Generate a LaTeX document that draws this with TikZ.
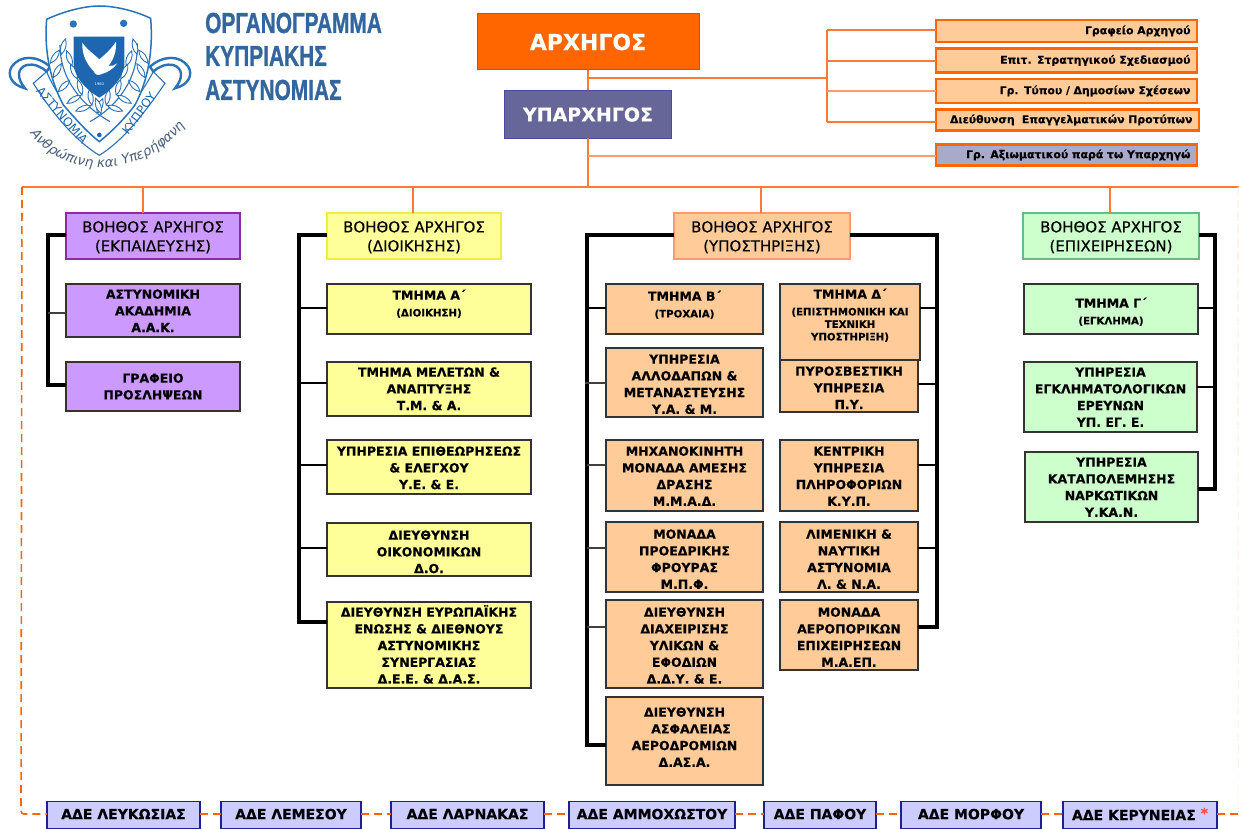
\documentclass[tikz,border=0pt]{standalone}
\usepackage{fontspec}
\setmainfont{DejaVu Sans}[BoldFeatures={FakeBold=0.25}]
\newfontfamily\hdrfont{DejaVu Sans}[FakeBold=0.35]
\newfontfamily\titlefont{Liberation Sans}[BoldFeatures={FakeBold=1.2}]
\usetikzlibrary{decorations.text}
\definecolor{org}{HTML}{FF6600}
\definecolor{orgline}{HTML}{FF7A33}
\definecolor{orgpale}{HTML}{FF9B70}
\definecolor{emb}{HTML}{2A73B8}
\definecolor{embdark}{HTML}{1F66B0}
\definecolor{ttl}{HTML}{33669F}
\definecolor{mot}{HTML}{4A5F7F}
\definecolor{purpfill}{HTML}{CC99FF}
\definecolor{yelfill}{HTML}{FFFF99}
\definecolor{peachfill}{HTML}{FFCC99}
\definecolor{grnfill}{HTML}{CCFFCC}
\definecolor{adefill}{HTML}{CCCCFF}
\definecolor{ademark}{HTML}{1F1F8F}
\definecolor{deputyfill}{HTML}{666699}
\definecolor{deputyedge}{HTML}{4A4AA5}
\definecolor{axfill}{HTML}{A9A9C9}
\definecolor{purpedge}{HTML}{8A2BA0}
\definecolor{yeledge}{HTML}{EEEE44}
\definecolor{peachedge}{HTML}{FF9A70}
\definecolor{grnedge}{HTML}{66BB88}
\newcommand\bx[8]{\node[boxbase,#6] (#1) at ({(#2+#4)/2},{(#3+#5)/2})
 {\parbox[c][\dimexpr#5pt-#3pt\relax][t]{\dimexpr#4pt-#2pt\relax}{\centering\vspace*{#7pt}\strut #8}};}
\newcommand\sml[1]{\\[3pt]{\fontsize{10.2}{12.5}\selectfont #1\par}}
\tikzset{
 boxbase/.style={inner sep=0pt,outer sep=0pt,align=center,font=\fontsize{12.5}{16.7}\selectfont\bfseries,text=black},
 hdr/.style={font=\fontsize{15}{19}\selectfont\hdrfont,text=black,line width=1.5pt},
 unitbox/.style={draw=black!80,line width=1.8pt},
 purp/.style={fill=purpfill},yel/.style={fill=yelfill},peach/.style={fill=peachfill},grn/.style={fill=grnfill},
 side/.style={draw=org,line width=2.2pt,fill=peachfill,font=\fontsize{10.9}{13}\selectfont\bfseries},
 ade/.style={draw=ademark,line width=1.6pt,fill=adefill,font=\fontsize{14}{15}\selectfont\bfseries},
 conn/.style={draw=orgline,line width=1.7pt},
 connpale/.style={draw=orgpale,line width=2pt},
 dashconn/.style={draw=org,line width=1.6pt,dash pattern=on 8pt off 5pt},
 trunk/.style={draw=black,line width=3.1pt},
 branch/.style={draw=black,line width=2.9pt},
 branchthin/.style={draw=black!75,line width=2pt},
 emline/.style={draw=emb,line width=1.1pt},
 leaf/.style={draw=emb,line width=.9pt,fill=white},
}
\begin{document}
\begin{tikzpicture}[x=1pt,y=-1pt]
\useasboundingbox (0,0) rectangle (1239,829);
\fill[white] (0,0) rectangle (1239,829);

%%% emblem (coordinates in 1/3 px)
\begin{scope}[x=.3333pt,y=-.3333pt]
 % ribbons
 \draw[emb,line width=2.4pt,fill=white] (150,200) .. controls (110,165) and (60,165) .. (35,200) .. controls (20,225) and (35,255) .. (75,265) .. controls (50,235) and (50,205) .. (80,195) .. controls (100,190) and (125,200) .. (140,215) -- cycle;
 \draw[emb,line width=2.4pt,fill=white] (450,200) .. controls (490,165) and (540,165) .. (565,200) .. controls (580,225) and (565,255) .. (525,265) .. controls (550,235) and (550,205) .. (520,195) .. controls (500,190) and (475,200) .. (460,215) -- cycle;
 % band
 \draw[emline,fill=white] (100,250) -- (140,215) .. controls (170,290) and (230,360) .. (298,405) .. controls (365,360) and (420,290) .. (460,215) -- (495,250) .. controls (430,345) and (365,425) .. (298,466) .. controls (230,425) and (160,345) .. (100,250) -- cycle;
 % shield
 \draw[emb,line width=1.5pt,fill=white] (140,58) .. controls (200,30) and (260,18) .. (298,18) .. controls (340,18) and (400,30) .. (452,55) .. controls (460,150) and (445,240) .. (405,315) .. controls (375,355) and (335,395) .. (298,425) .. controls (260,395) and (225,355) .. (190,315) .. controls (150,240) and (132,150) .. (140,58) -- cycle;
 \fill[emb] (220,72) circle (11) (371,70) circle (11);
 \fill[embdark] (298,405) circle (7);
 % laurel
 \draw[emb,line width=1.1pt] (330,365) .. controls (250,320) and (180,240) .. (180,135);
 \draw[emb,line width=1.1pt] (270,365) .. controls (350,320) and (415,240) .. (412,130);
 \foreach \lx/\ly/\la in {190/140/75,165/170/55,208/175/110,172/212/60,222/215/115,192/258/45,240/262/105,222/298/30,272/292/100,250/325/20,300/318/70}{
  \draw[leaf,shift={(\lx,\ly)},rotate=\la] (-24,0) .. controls (-8,-10) and (8,-10) .. (24,0) .. controls (8,10) and (-8,10) .. (-24,0) -- cycle;
  \draw[leaf,shift={(595-\lx,\ly)},rotate=-\la] (-24,0) .. controls (-8,-10) and (8,-10) .. (24,0) .. controls (8,10) and (-8,10) .. (-24,0) -- cycle;
 }
 % inner shield with dove
 \fill[embdark] (221,110) -- (373,110) -- (373,195) .. controls (370,235) and (335,270) .. (298,293) .. controls (260,270) and (225,235) .. (221,195) -- cycle;
 \fill[white] (247,128) .. controls (262,150) and (285,165) .. (298,178) .. controls (320,160) and (335,145) .. (348,125) .. controls (350,155) and (340,180) .. (325,198) .. controls (335,200) and (345,195) .. (352,190) .. controls (340,208) and (320,218) .. (305,222) .. controls (295,228) and (285,225) .. (280,212) .. controls (262,195) and (245,165) .. (247,128) -- cycle;
 \node[inner sep=0pt,text=white,font=\fontsize{3.6}{4}\selectfont] (emyear) at (298,252) {1960};
 % band lettering
 \node[inner sep=0pt,rotate=-49,text=embdark,font=\fontsize{12}{13}\selectfont] (emleft) at (187,346) {ΑΣΤΥΝΟΜΙΑ};
 \node[inner sep=0pt,rotate=54,text=embdark,font=\fontsize{12}{13}\selectfont] (emright) at (417,340) {ΚΥΠΡΟΥ};
 % motto
 \path[postaction={decorate,decoration={text along path,text align=fit to path,text={|\fontsize{13.5}{14}\selectfont\itshape\color{mot}|Ανθρώπινη και Υπερήφανη}}}]
   (90,400) .. controls (180,530) and (410,550) .. (555,378);
\end{scope}

%%% title
\node[anchor=west,inner sep=0pt,text=ttl,font=\fontsize{29}{30}\selectfont\titlefont\bfseries] (t1) at (205,23) {\scalebox{.72}[1]{ΟΡΓΑΝΟΓΡΑΜΜΑ}};
\node[anchor=west,inner sep=0pt,text=ttl,font=\fontsize{29}{30}\selectfont\titlefont\bfseries] (t2) at (205,56) {\scalebox{.72}[1]{ΚΥΠΡΙΑΚΗΣ}};
\node[anchor=west,inner sep=0pt,text=ttl,font=\fontsize{29}{30}\selectfont\titlefont\bfseries] (t3) at (205,90) {\scalebox{.72}[1]{ΑΣΤΥΝΟΜΙΑΣ}};

%%% command nodes
\node[draw=org!80!black,fill=org,line width=1pt,minimum width=222pt,minimum height=56pt,inner sep=0pt,outer sep=0pt,text=white,font=\fontsize{22}{24}\selectfont\bfseries] (chief) at (588,42) {\raisebox{-5pt}{ΑΡΧΗΓΟΣ}};
\node[draw=deputyedge,fill=deputyfill,line width=1pt,minimum width=167pt,minimum height=48pt,inner sep=0pt,outer sep=0pt,text=white,font=\fontsize{19}{20}\selectfont\bfseries] (deputy) at (588,114.5) {\raisebox{-3.5pt}{ΥΠΑΡΧΗΓΟΣ}};

%%% side offices
\node[side,anchor=east,align=right,minimum width=261pt,minimum height=22pt,inner sep=0pt,outer sep=0pt,text=black,text width=248pt] (s1) at (1197,31) {\raisebox{-1pt}{Γραφείο Αρχηγού}};
\node[side,anchor=east,align=right,minimum width=261pt,minimum height=24pt,inner sep=0pt,outer sep=0pt,text=black,text width=248pt] (s2) at (1197,60.5) {Επιτ. Στρατηγικού Σχεδιασμού};
\node[side,anchor=east,align=right,minimum width=261pt,minimum height=24pt,inner sep=0pt,outer sep=0pt,text=black,text width=248pt] (s3) at (1197,91) {Γρ. Τύπου / Δημοσίων Σχέσεων};
\node[side,anchor=east,align=right,minimum width=263pt,minimum height=21pt,inner sep=0pt,outer sep=0pt,text=black,text width=250pt] (s4) at (1199,120) {\raisebox{-2pt}{Διεύθυνση\ \ Επαγγελματικών Προτύπων}};
\node[side,fill=axfill,anchor=east,align=right,minimum width=261pt,minimum height=21pt,inner sep=0pt,outer sep=0pt,text=black,text width=248pt] (s5) at (1197,155) {\raisebox{-1pt}{Γρ. Αξιωματικού παρά τω Υπαρχηγώ}};

%%% assistant chiefs
\bx{h1}{66}{213}{240}{259}{hdr,purp,draw=purpedge}{6}{ΒΟΗΘΟΣ ΑΡΧΗΓΟΣ\\(ΕΚΠΑΙΔΕΥΣΗΣ)}
\bx{h2}{327}{213}{501}{259}{hdr,yel,draw=yeledge}{6}{ΒΟΗΘΟΣ ΑΡΧΗΓΟΣ\\(ΔΙΟΙΚΗΣΗΣ)}
\bx{h3}{674}{213}{850}{259}{hdr,peach,draw=peachedge}{6}{ΒΟΗΘΟΣ ΑΡΧΗΓΟΣ\\(ΥΠΟΣΤΗΡΙΞΗΣ)}
\bx{h4}{1023}{213}{1199}{259}{hdr,grn,draw=grnedge}{6}{ΒΟΗΘΟΣ ΑΡΧΗΓΟΣ\\(ΕΠΙΧΕΙΡΗΣΕΩΝ)}

%%% column 1
\bx{a1}{66}{284}{240}{337}{unitbox,purp}{3}{ΑΣΤΥΝΟΜΙΚΗ\\ΑΚΑΔΗΜΙΑ\\Α.Α.Κ.}
\bx{a2}{66}{362}{240}{411}{unitbox,purp}{9}{ΓΡΑΦΕΙΟ\\ΠΡΟΣΛΗΨΕΩΝ}
%%% column 2
\bx{b1}{327}{284}{531}{334}{unitbox,yel}{4}{ΤΜΗΜΑ Α΄\sml{(ΔΙΟΙΚΗΣΗ)}}
\bx{b2}{327}{362}{531}{416}{unitbox,yel}{3}{ΤΜΗΜΑ ΜΕΛΕΤΩΝ \&\\ΑΝΑΠΤΥΞΗΣ\\Τ.Μ. \& Α.}
\bx{b3}{327}{440}{531}{494}{unitbox,yel}{4}{ΥΠΗΡΕΣΙΑ ΕΠΙΘΕΩΡΗΣΕΩΣ\\\& ΕΛΕΓΧΟΥ\\Υ.Ε. \& Ε.}
\bx{b4}{327}{523}{531}{576}{unitbox,yel}{5}{ΔΙΕΥΘΥΝΣΗ\\ΟΙΚΟΝΟΜΙΚΩΝ\\Δ.Ο.}
\bx{b5}{327}{602}{531}{688}{unitbox,yel}{3}{ΔΙΕΥΘΥΝΣΗ ΕΥΡΩΠΑΪΚΗΣ\\ΕΝΩΣΗΣ \& ΔΙΕΘΝΟΥΣ\\ΑΣΤΥΝΟΜΙΚΗΣ\\ΣΥΝΕΡΓΑΣΙΑΣ\\Δ.Ε.Ε. \& Δ.Α.Σ.}
%%% column 3 left
\bx{c1}{606}{284}{763}{334}{unitbox,peach}{5}{ΤΜΗΜΑ Β΄\sml{(ΤΡΟΧΑΙΑ)}}
\bx{c2}{606}{348}{763}{417}{unitbox,peach}{4}{ΥΠΗΡΕΣΙΑ\\ΑΛΛΟΔΑΠΩΝ \&\\ΜΕΤΑΝΑΣΤΕΥΣΗΣ\\Υ.Α. \& Μ.}
\bx{c3}{606}{440}{763}{511}{unitbox,peach}{4}{ΜΗΧΑΝΟΚΙΝΗΤΗ\\ΜΟΝΑΔΑ ΑΜΕΣΗΣ\\ΔΡΑΣΗΣ\\Μ.Μ.Α.Δ.}
\bx{c4}{606}{522}{763}{592}{unitbox,peach}{5}{ΜΟΝΑΔΑ\\ΠΡΟΕΔΡΙΚΗΣ\\ΦΡΟΥΡΑΣ\\Μ.Π.Φ.}
\bx{c5}{606}{600}{763}{688}{unitbox,peach}{5}{ΔΙΕΥΘΥΝΣΗ\\ΔΙΑΧΕΙΡΙΣΗΣ\\ΥΛΙΚΩΝ \&\\ΕΦΟΔΙΩΝ\\Δ.Δ.Υ. \& Ε.}
\bx{c6}{606}{697}{763}{785}{unitbox,peach}{8}{ΔΙΕΥΘΥΝΣΗ\\\hspace*{13pt}ΑΣΦΑΛΕΙΑΣ\\ΑΕΡΟΔΡΟΜΙΩΝ\\Δ.ΑΣ.Α.}
%%% column 3 right
\bx{d1}{780}{284}{920}{360}{unitbox,peach}{3}{ΤΜΗΜΑ Δ΄\sml{(ΕΠΙΣΤΗΜΟΝΙΚΗ ΚΑΙ\\ΤΕΧΝΙΚΗ\\ΥΠΟΣΤΗΡΙΞΗ)}}
\bx{d2}{780}{360}{918}{412}{unitbox,peach}{4}{ΠΥΡΟΣΒΕΣΤΙΚΗ\\ΥΠΗΡΕΣΙΑ\\Π.Υ.}
\bx{d3}{780}{440}{918}{511}{unitbox,peach}{4}{ΚΕΝΤΡΙΚΗ\\ΥΠΗΡΕΣΙΑ\\ΠΛΗΡΟΦΟΡΙΩΝ\\Κ.Υ.Π.}
\bx{d4}{780}{522}{918}{592}{unitbox,peach}{5}{ΛΙΜΕΝΙΚΗ \&\\ΝΑΥΤΙΚΗ\\ΑΣΤΥΝΟΜΙΑ\\Λ. \& Ν.Α.}
\bx{d5}{780}{600}{918}{670}{unitbox,peach}{5}{ΜΟΝΑΔΑ\\ΑΕΡΟΠΟΡΙΚΩΝ\\ΕΠΙΧΕΙΡΗΣΕΩΝ\\Μ.Α.ΕΠ.}
%%% column 4
\bx{e1}{1024}{284}{1198}{334}{unitbox,grn}{12}{ΤΜΗΜΑ Γ΄\sml{(ΕΓΚΛΗΜΑ)}}
\bx{e2}{1024}{362}{1197}{432}{unitbox,grn}{3}{ΥΠΗΡΕΣΙΑ\\ΕΓΚΛΗΜΑΤΟΛΟΓΙΚΩΝ\\ΕΡΕΥΝΩΝ\\ΥΠ. ΕΓ. Ε.}
\bx{e3}{1025}{452}{1198}{522}{unitbox,grn}{3}{ΥΠΗΡΕΣΙΑ\\ΚΑΤΑΠΟΛΕΜΗΣΗΣ\\ΝΑΡΚΩΤΙΚΩΝ\\Υ.ΚΑ.Ν.}

%%% district offices
\node[ade,minimum width=153pt,minimum height=27pt,inner sep=0pt,outer sep=0pt] (r1) at (123.5,815) {\raisebox{2pt}{ΑΔΕ ΛΕΥΚΩΣΙΑΣ}};
\node[ade,minimum width=140pt,minimum height=27pt,inner sep=0pt,outer sep=0pt] (r2) at (291,815) {\raisebox{2pt}{ΑΔΕ ΛΕΜΕΣΟΥ}};
\node[ade,minimum width=153pt,minimum height=27pt,inner sep=0pt,outer sep=0pt] (r3) at (467.5,815) {\raisebox{2pt}{ΑΔΕ ΛΑΡΝΑΚΑΣ}};
\node[ade,minimum width=166pt,minimum height=27pt,inner sep=0pt,outer sep=0pt] (r4) at (652,815) {\raisebox{2pt}{ΑΔΕ ΑΜΜΟΧΩΣΤΟΥ}};
\node[ade,minimum width=112pt,minimum height=27pt,inner sep=0pt,outer sep=0pt] (r5) at (820,815) {\raisebox{2pt}{ΑΔΕ ΠΑΦΟΥ}};
\node[ade,minimum width=140pt,minimum height=27pt,inner sep=0pt,outer sep=0pt] (r6) at (971,815) {\raisebox{2pt}{ΑΔΕ ΜΟΡΦΟΥ}};
\node[ade,minimum width=154pt,minimum height=27pt,inner sep=0pt,outer sep=0pt] (r7) at (1140,815) {\raisebox{2pt}{ΑΔΕ ΚΕΡΥΝΕΙΑΣ \raisebox{2pt}{\textcolor{red!70!white}{*}}}};

%%% upper connectors
\coordinate (rail1) at (827,78);
\coordinate (busL) at (22,187);
\coordinate (busR) at (1239,187);
\coordinate (busC) at (588,187);
\coordinate (sideT) at (827,30);
\coordinate (sideB) at (827,122);
\coordinate (axj) at (588,156);
\coordinate (archj) at (588,78);
\draw[conn] (chief.south) -- (deputy.north);
\draw[conn] (deputy.south) -- (busC);
\draw[conn] (archj) -- (rail1);
\draw[conn,line join=round] (sideT) -- (sideB);
\draw[conn] (sideT) -- (sideT -| s1.west);
\coordinate (s2j) at (827,61); \draw[conn] (s2j) -- (s2j -| s2.west);
\coordinate (s3j) at (827,91); \draw[connpale] (s3j) -- (s3j -| s3.west);
\draw[conn] (sideB) -- (sideB -| s4.west);
\draw[connpale] (axj) -- (axj -| s5.west);
\draw[conn] (busL) -- (busR);
\coordinate (dp1) at (143,187); \draw[conn] (dp1) -- (dp1 |- h1.north);
\coordinate (dp2) at (413,187); \draw[conn] (dp2) -- (dp2 |- h2.north);
\coordinate (dp3) at (761,187); \draw[conn] (dp3) -- (dp3 |- h3.north);
\coordinate (dp4) at (1110,187); \draw[conn] (dp4) -- (dp4 |- h4.north);

%%% dashed district line
\coordinate (dashC) at (21,814);
\coordinate (r1j) at (47,814);
\coordinate (busEnd) at (1239,814);
\draw[dashconn,rounded corners=3pt] (busL) -- (dashC) -- (r1.west |- r1j);
\draw[dashconn] (r1.east |- r1j) -- (r1j -| r2.west);
\draw[dashconn] (r2.east |- r1j) -- (r1j -| r3.west);
\draw[dashconn] (r3.east |- r1j) -- (r1j -| r4.west);
\draw[dashconn] (r4.east |- r1j) -- (r1j -| r5.west);
\draw[dashconn] (r5.east |- r1j) -- (r1j -| r6.west);
\draw[dashconn] (r6.east |- r1j) -- (r1j -| r7.west);
\draw[dashconn] (r7.east |- r1j) -- (busEnd);
\coordinate (faintT) at (1238,187);
\draw[draw=org!12,line width=1.4pt,dash pattern=on 8pt off 5pt] (faintT) -- (busEnd);

%%% black trunks
\coordinate (t1a) at (48,235); \coordinate (t1b) at (48,385);
\draw[trunk,line join=miter] (h1.west |- t1a) -- (t1a) -- (t1b) -- (t1b -| a2.west);
\coordinate (t1c) at (48,313); \draw[branchthin] (t1c) -- (t1c -| a1.west);

\coordinate (t2a) at (299,235); \coordinate (t2b) at (299,622);
\draw[trunk] (h2.west |- t2a) -- (t2a) -- (t2b) -- (t2b -| b5.west);
\coordinate (t2c) at (299,308); \draw[branch] (t2c) -- (t2c -| b1.west);
\coordinate (t2d) at (299,383); \draw[branch] (t2d) -- (t2d -| b2.west);
\coordinate (t2e) at (299,465); \draw[branch] (t2e) -- (t2e -| b3.west);
\coordinate (t2f) at (299,548); \draw[branch] (t2f) -- (t2f -| b4.west);

\coordinate (t3a) at (587,235); \coordinate (t3b) at (587,745);
\draw[trunk] (h3.west |- t3a) -- (t3a) -- (t3b) -- (t3b -| c6.west);
\coordinate (t3c) at (587,308); \draw[branch] (t3c) -- (t3c -| c1.west);
\coordinate (t3d) at (585,383); \draw[branchthin] (t3d) -- (t3d -| c2.west);
\coordinate (t3e) at (587,465); \draw[branchthin] (t3e) -- (t3e -| c3.west);
\coordinate (t3f) at (587,548); \draw[branchthin] (t3f) -- (t3f -| c4.west);
\coordinate (t3g) at (587,627); \draw[branchthin] (t3g) -- (t3g -| c5.west);

\coordinate (t4a) at (937,235); \coordinate (t4b) at (937,627);
\draw[trunk] (h3.east |- t4a) -- (t4a) -- (t4b) -- (t4b -| d5.east);
\coordinate (t4c) at (937,308); \draw[branch] (t4c) -- (t4c -| d1.east);
\coordinate (t4d) at (937,384); \draw[branch] (t4d) -- (t4d -| d2.east);
\coordinate (t4e) at (937,465); \draw[branch] (t4e) -- (t4e -| d3.east);
\coordinate (t4f) at (937,548); \draw[branch] (t4f) -- (t4f -| d4.east);

\coordinate (t5a) at (1215,235); \coordinate (t5b) at (1215,489);
\draw[trunk] (h4.east |- t5a) -- (t5a) -- (t5b) -- (t5b -| e3.east);
\coordinate (t5c) at (1215,308); \draw[branch] (t5c) -- (t5c -| e1.east);
\coordinate (t5d) at (1215,387); \draw[branch] (t5d) -- (t5d -| e2.east);
\end{tikzpicture}
\end{document}
